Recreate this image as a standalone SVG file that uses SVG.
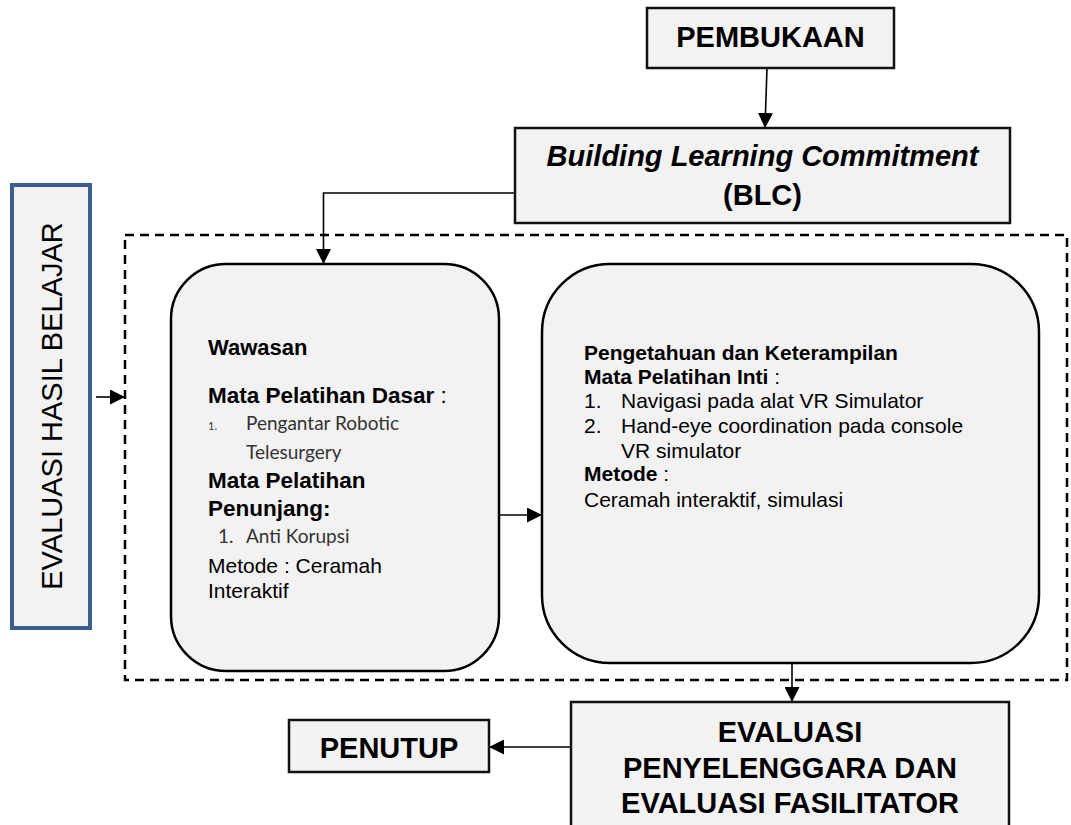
<svg xmlns="http://www.w3.org/2000/svg" width="1071" height="825" viewBox="0 0 1071 825">
<defs>
<style>
.box{fill:#f2f2f2;stroke:#111;stroke-width:2.5}
.rbox{fill:#f2f2f2;stroke:#000;stroke-width:2.5}
.conn{fill:none;stroke:#000;stroke-width:1.6}
.t{font-family:"Liberation Sans",Arial,sans-serif;fill:#000}
.b{font-weight:bold}
.big{font-size:29px;font-weight:bold}
.c{font-family:Lato,"Open Sans",sans-serif;fill:#333}
</style>
<marker id="ah" markerUnits="userSpaceOnUse" markerWidth="15" markerHeight="15" refX="15" refY="7.5" orient="auto">
<path d="M0,0 L15,7.5 L0,15 z" fill="#000"/>
</marker>
</defs>
<rect width="1071" height="825" fill="#fff"/>

<g id="connectors">
<line class="conn" x1="767" y1="68" x2="765" y2="128" marker-end="url(#ah)"/>
<polyline class="conn" points="515,193 323.5,193 323.5,264" marker-end="url(#ah)"/>
<line class="conn" x1="96" y1="397" x2="125" y2="397" marker-end="url(#ah)"/>
<line class="conn" x1="499" y1="515" x2="542" y2="515" marker-end="url(#ah)"/>
<line class="conn" x1="792" y1="663" x2="792" y2="702" marker-end="url(#ah)"/>
<line class="conn" x1="571" y1="747" x2="489" y2="747" marker-end="url(#ah)"/>
</g>

<g id="training-group">
<rect x="125" y="235" width="942" height="445" fill="none" stroke="#000" stroke-width="2.5" stroke-dasharray="9,6"/>
</g>

<g id="pembukaan">
<rect class="box" x="647" y="8" width="247" height="60"/>
<text class="t big" x="770.5" y="47" text-anchor="middle">PEMBUKAAN</text>
</g>

<g id="blc">
<rect class="box" x="515" y="128" width="495" height="95"/>
<text class="t big" x="762.5" y="166" text-anchor="middle" font-style="italic">Building Learning Commitment</text>
<text class="t big" x="762.5" y="205" text-anchor="middle">(BLC)</text>
</g>

<g id="evaluasi-hasil-belajar">
<rect x="12" y="185" width="78" height="443" fill="#f2f2f2" stroke="#3a5f8f" stroke-width="4"/>
<text class="t" font-size="29" transform="translate(62,406) rotate(-90)" text-anchor="middle">EVALUASI HASIL BELAJAR</text>
</g>

<g id="wawasan">
<rect class="rbox" x="171" y="264" width="328" height="407" rx="55" ry="55"/>
<text class="t b" font-size="22" x="208" y="355">Wawasan</text>
<text class="t" font-size="22.5" x="208" y="403"><tspan font-weight="bold">Mata Pelatihan Dasar</tspan> :</text>
<text class="c" font-size="11" x="208" y="430">1.</text>
<text class="c" font-size="19" x="246" y="430">Pengantar Robotic</text>
<text class="c" font-size="19" x="246" y="459">Telesurgery</text>
<text class="t b" font-size="22.5" x="208" y="488">Mata Pelatihan</text>
<text class="t b" font-size="22.5" x="208" y="516">Penunjang:</text>
<text class="c" font-size="19" x="218" y="543">1.</text>
<text class="c" font-size="19" x="246" y="543">Anti Korupsi</text>
<text class="t" font-size="21" x="208" y="573">Metode : Ceramah</text>
<text class="t" font-size="21" x="208" y="598">Interaktif</text>
</g>

<g id="pengetahuan">
<rect class="rbox" x="542" y="264" width="497" height="399" rx="68" ry="68"/>
<text class="t b" font-size="21" x="584" y="360">Pengetahuan dan Keterampilan</text>
<text class="t" font-size="21" x="584" y="384"><tspan font-weight="bold">Mata Pelatihan Inti</tspan> :</text>
<text class="t" font-size="21" x="584" y="408">1.</text>
<text class="t" font-size="21" x="621" y="408">Navigasi pada alat VR Simulator</text>
<text class="t" font-size="21" x="584" y="433">2.</text>
<text class="t" font-size="21" x="621" y="433">Hand-eye coordination pada console</text>
<text class="t" font-size="21" x="621" y="458">VR simulator</text>
<text class="t" font-size="21" x="584" y="481"><tspan font-weight="bold">Metode</tspan> :</text>
<text class="t" font-size="21" x="584" y="507">Ceramah interaktif, simulasi</text>
</g>

<g id="evaluasi-penyelenggara">
<rect class="box" x="571" y="702" width="438" height="130"/>
<text class="t big" x="790" y="742" text-anchor="middle">EVALUASI</text>
<text class="t big" x="790" y="778" text-anchor="middle">PENYELENGGARA DAN</text>
<text class="t big" x="790" y="813" text-anchor="middle">EVALUASI FASILITATOR</text>
</g>

<g id="penutup">
<rect class="box" x="289" y="720" width="200" height="52"/>
<text class="t big" x="389" y="758" text-anchor="middle">PENUTUP</text>
</g>
</svg>
